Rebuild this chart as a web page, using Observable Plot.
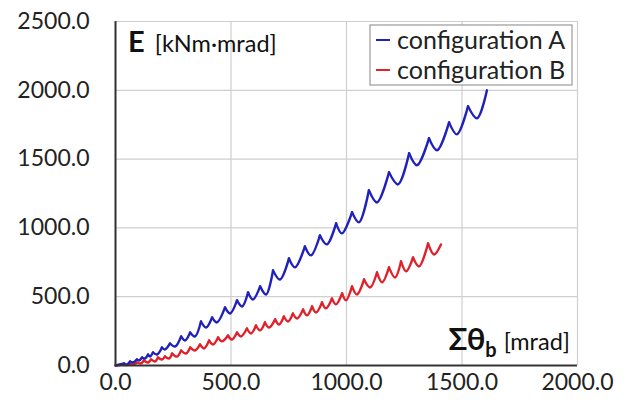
<!DOCTYPE html>
<html><head><meta charset="utf-8">
<script src="https://cdn.jsdelivr.net/npm/d3@7"></script>
<script src="https://cdn.jsdelivr.net/npm/@observablehq/plot@0.6"></script>
<style>body{margin:0;background:#fff;font-family:Lato,sans-serif}</style>
</head><body><div id="chart"></div>
<script>
// Vertices: origin, then alternating peak / trough, then end point
const seriesNames = ["configuration A", "configuration B"];
const aX = [0, 37,50, 63,76, 93,102, 115,128, 141,149, 162,180, 201,214, 236,258, 284,301, 323,344, 370,392, 418,439, 474,496, 526,548, 574,595, 626,652, 682,712, 751,777, 820,846, 885,915, 955,980, 1024,1054, 1097,1132, 1184,1223, 1271,1305, 1357,1392, 1444,1478, 1526,1565, 1608];
const aY = [0, 15,7, 29,22, 44,36, 58,51, 80,65, 95,80, 131,116, 160,138, 211,182, 240,211, 320,276, 349,313, 422,378, 473,429, 531,480, 575,516, 691,625, 778,713, 865,800, 945,880, 1033,960, 1113,1040, 1273,1185, 1404,1316, 1542,1455, 1651,1564, 1767,1680, 1884,1796, 2000];
const bX = [0, 33,50, 63,80, 93,110, 123,141, 154,171, 184,201, 214,232, 245,266, 284,305, 323,344, 366,383, 405,422, 444,461, 487,504, 526,543, 569,587, 608,626, 647,665, 691,708, 729,747, 768,786, 812,829, 851,868, 894,911, 937,955, 981,998, 1024,1045, 1076,1102, 1132,1154, 1184,1210, 1236,1258, 1288,1314, 1353,1379, 1409];
const bY = [0, 7,3, 15,7, 22,15, 36,22, 44,29, 58,44, 65,51, 87,65, 109,87, 131,109, 153,124, 182,153, 204,175, 218,189, 240,211, 269,233, 291,255, 313,276, 335,298, 356,320, 378,342, 407,364, 429,385, 458,415, 487,444, 524,473, 575,516, 625,567, 676,604, 713,640, 756,684, 785,720, 887,807, 880];
const xTicks = [0, 500, 1000, 1500, 2000];
const yTicks = [0, 500, 1000, 1500, 2000, 2500];
const colors = ["#2020bb", "#e0202a"];

// Build cusp segments: origin->first peak, then peak->trough->next peak
function segments(xs, ys, name) {
  const rows = [];
  rows.push({x: xs[0], y: ys[0], seg: name + "-0", s: name});
  rows.push({x: xs[1], y: ys[1], seg: name + "-0", s: name});
  for (let i = 1; i + 2 < xs.length; i += 2) {
    for (let k = 0; k < 3; k++) rows.push({x: xs[i + k], y: ys[i + k], seg: name + "-" + i, s: name});
  }
  return rows;
}
const segA = segments(aX, aY, seriesNames[0]);
const segB = segments(bX, bY, seriesNames[1]);
const fmt = d3.format(".1f");

const chart = Plot.plot({
  width: 627, height: 411,
  marginLeft: 115, marginRight: 50, marginTop: 21, marginBottom: 46,
  style: {fontFamily: "Lato, sans-serif", fontSize: "23px", color: "#222", background: "#fff"},
  x: {domain: [0, 2000], label: null},
  y: {domain: [0, 2500], label: null},
  marks: [
    Plot.gridX(xTicks, {stroke: "#cfcfcf", strokeOpacity: 1, strokeWidth: 1.2}),
    Plot.gridY(yTicks, {stroke: "#cfcfcf", strokeOpacity: 1, strokeWidth: 1.2}),
    Plot.axisX(xTicks, {tickSize: 0, tickPadding: 8, tickFormat: fmt, fontSize: 23, fill: "#222"}),
    Plot.axisY(yTicks, {tickSize: 0, tickPadding: 26, tickFormat: fmt, fontSize: 23, fill: "#222"}),
    Plot.line(segB, {x: "x", y: "y", z: "seg", curve: "catmull-rom", stroke: colors[1], strokeWidth: 2.4}),
    Plot.line(segA, {x: "x", y: "y", z: "seg", curve: "catmull-rom", stroke: colors[0], strokeWidth: 2.4}),
    Plot.ruleY([0], {stroke: "#333", strokeWidth: 2}),
    Plot.ruleX([0], {stroke: "#333", strokeWidth: 2})
  ]
});
document.getElementById("chart").appendChild(chart);

// Annotations & legend
const svg = d3.select(chart);
const t1 = svg.append("text").attr("x", 128).attr("y", 52).attr("text-anchor", "start").attr("fill", "#111").style("font-family", "Lato, sans-serif");
t1.append("tspan").attr("font-weight", "bold").attr("font-size", 29).text("E");
t1.append("tspan").attr("font-size", 23.5).attr("dx", 10).text("[kNm·mrad]");

const t2 = svg.append("text").attr("x", 570).attr("y", 350).attr("text-anchor", "end").attr("fill", "#111").style("font-family", "Lato, sans-serif");
t2.append("tspan").attr("font-weight", "bold").attr("font-size", 31).text("Σθ");
t2.append("tspan").attr("font-weight", "bold").attr("font-size", 20).attr("dy", 7).text("b");
t2.append("tspan").attr("font-size", 23.5).attr("dy", -7).attr("dx", 7).text("[mrad]");

const lg = svg.append("g");
lg.append("rect").attr("x", 370).attr("y", 25).attr("width", 202).attr("height", 60).attr("fill", "#fff").attr("stroke", "#999").attr("stroke-width", 1.2);
seriesNames.forEach((n, i) => {
  const yy = 40 + i * 30;
  lg.append("line").attr("x1", 376).attr("x2", 390).attr("y1", yy).attr("y2", yy).attr("stroke", colors[i]).attr("stroke-width", 2);
  lg.append("text").attr("x", 397).attr("y", yy).attr("dy", "0.35em").attr("text-anchor", "start").attr("font-size", 25).attr("fill", "#222").style("font-family", "Lato, sans-serif").text(n);
});
</script></body></html>
